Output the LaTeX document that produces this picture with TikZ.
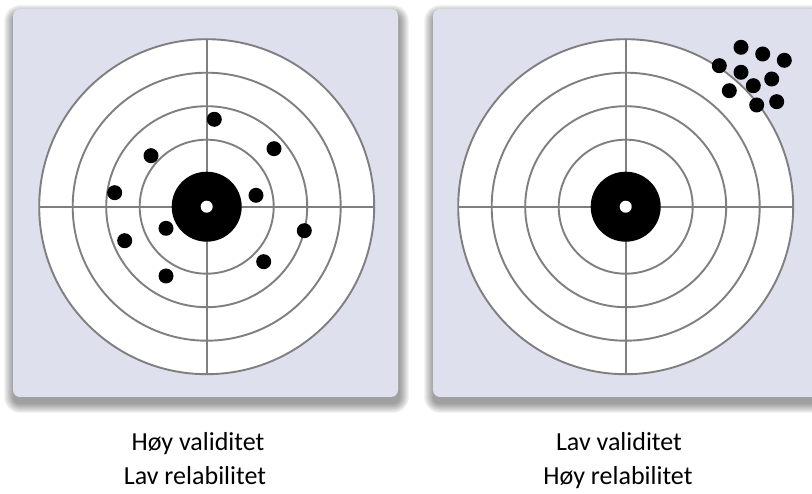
\documentclass[tikz,border=0pt]{standalone}
\usepackage{fontspec}
\setmainfont{Carlito}
\definecolor{panelbg}{HTML}{DEE0EE}
\definecolor{ringgray}{HTML}{7F7F7F}
\tikzset{
  panel/.style={fill=panelbg, draw=none, rounded corners=7pt},
  shadowlayer/.style={fill=black, fill opacity=0.045, draw=none},
  ring/.style={draw=ringgray, line width=1.9pt},
  hit/.style={fill=black},
  caption/.style={font=\fontsize{26}{34}\selectfont, anchor=base, inner sep=0pt}
}
\newcommand{\mypanel}[4]{%
  \foreach \k in {0,1,...,9}{
    \pgfmathsetmacro{\e}{10-\k}
    \path[shadowlayer, rounded corners=\e pt+6pt]
      (#1-\e+1,#2-\e+6) rectangle (#3+\e+1,#4+\e+6);
  }
  \path[panel] (#1,#2) rectangle (#3,#4);}
\newcommand{\mytarget}[1]{%
  \begin{scope}[shift={(#1)}]
    \fill[white] (0,0) circle (167.5);
    \draw[ring] (0,0) circle (167.5);
    \draw[ring] (0,0) circle (134);
    \draw[ring] (0,0) circle (100.5);
    \draw[ring] (0,0) circle (67);
    \draw[ring] (-167.5,0) -- (167.5,0);
    \draw[ring] (0,-167.5) -- (0,167.5);
    \fill[black] (0,0) circle (35);
    \fill[white] (0,0) circle (6);
  \end{scope}}
\begin{document}
\begin{tikzpicture}[x=1pt,y=-1pt]
\useasboundingbox (0,0) rectangle (812,494);
\clip (0,0) rectangle (812,494);
\fill[white] (0,0) rectangle (812,494);
% panels
\mypanel{13}{9}{398}{397}
\mypanel{433}{9}{818}{397}
% targets
\mytarget{206.7,206.7}
\mytarget{625.7,206.7}
% left hits
\foreach \x/\y in {214.3/119.3, 274/148.7, 151/155.7, 114.7/192.7, 256/195.3,
  166/228.3, 304.3/230.7, 124.7/240.7, 263.7/261.7, 166/276}
  \fill[hit] (\x,\y) circle (7.5);
% right hits
\foreach \x/\y in {741/47.3, 762.7/54, 784.3/60.3, 719.3/65.7, 741/72.3,
  771.7/79, 753.3/85.7, 729.3/90.7, 776.7/101.7, 756.7/105}
  \fill[hit] (\x,\y) circle (7.5);
% captions
\node[caption] (l1) at (198,451) {Høy validitet};
\node[caption] (l2) at (195,485) {Lav relabilitet};
\node[caption] (r1) at (619,451) {Lav validitet};
\node[caption] (r2) at (618,485) {Høy relabilitet};
\end{tikzpicture}
\end{document}
